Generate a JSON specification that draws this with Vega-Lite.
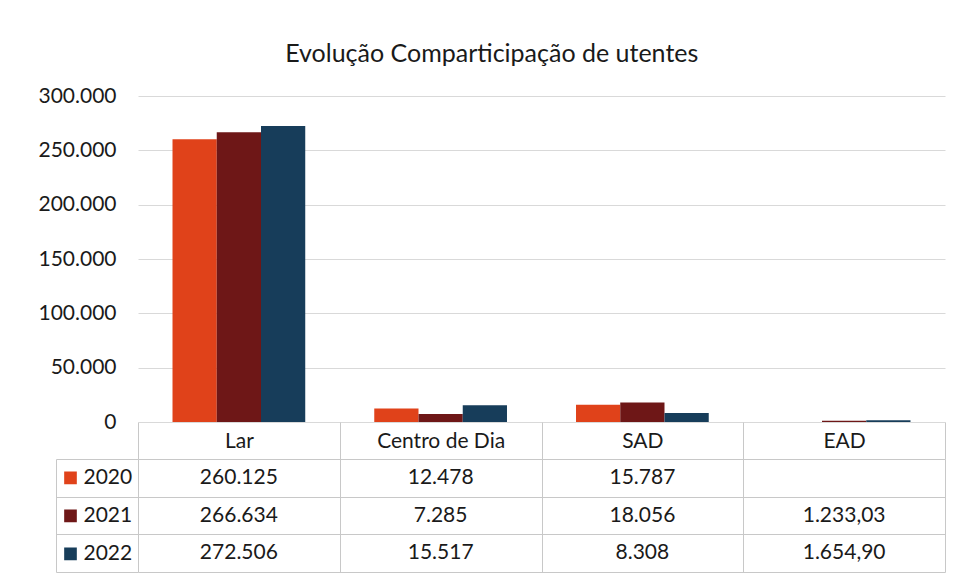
{
  "$schema": "https://vega.github.io/schema/vega-lite/v6.json",
  "background": "white",
  "padding": {"left": 37, "top": 42, "right": 5, "bottom": 0},
  "title": {"text": "Evolução Comparticipação de utentes", "font": "Lato", "fontSize": 25, "fontWeight": "normal", "color": "#1a1a1a", "anchor": "middle", "frame": "bounds", "offset": 18},
  "datasets": {
    "comp": [
      {"categoria": "Lar", "ano": "2020", "valor": 260125},
      {"categoria": "Lar", "ano": "2021", "valor": 266634},
      {"categoria": "Lar", "ano": "2022", "valor": 272506},
      {"categoria": "Centro de Dia", "ano": "2020", "valor": 12478},
      {"categoria": "Centro de Dia", "ano": "2021", "valor": 7285},
      {"categoria": "Centro de Dia", "ano": "2022", "valor": 15517},
      {"categoria": "SAD", "ano": "2020", "valor": 15787},
      {"categoria": "SAD", "ano": "2021", "valor": 18056},
      {"categoria": "SAD", "ano": "2022", "valor": 8308},
      {"categoria": "EAD", "ano": "2021", "valor": 1233.03},
      {"categoria": "EAD", "ano": "2022", "valor": 1654.90}
    ]
  },
  "config": {
    "font": "Lato",
    "locale": {"number": {"decimal": ",", "thousands": ".", "grouping": [3], "currency": ["", " €"]}},
    "view": {"stroke": null},
    "axis": {"labelFont": "Lato", "titleFont": "Lato"},
    "legend": {"labelFont": "Lato"}
  },
  "bounds": "flush",
  "spacing": 37,
  "vconcat": [
    {
      "width": 807,
      "height": 326,
      "data": {"name": "comp"},
      "mark": {"type": "bar"},
      "encoding": {
        "x": {"field": "categoria", "type": "nominal", "scale": {"domain": ["Lar", "Centro de Dia", "SAD", "EAD"], "paddingInner": 0, "paddingOuter": 0}, "axis": null},
        "xOffset": {"field": "ano", "type": "nominal", "scale": {"domain": ["2020", "2021", "2022"], "paddingInner": 0, "paddingOuter": 0.78}},
        "y": {"field": "valor", "type": "quantitative", "scale": {"domain": [0, 300000], "nice": false},
          "axis": {"title": null, "values": [0, 50000, 100000, 150000, 200000, 250000, 300000], "format": ",.0f", "ticks": false, "domain": false, "labelPadding": 22, "labelFontSize": 21, "labelColor": "#1a1a1a", "gridColor": "#d9d9d9"}},
        "color": {"field": "ano", "type": "nominal", "scale": {"domain": ["2020", "2021", "2022"], "range": ["#E0421A", "#6E1717", "#173D5A"]},
          "legend": {"orient": "none", "legendX": -74, "legendY": 363, "title": null, "symbolType": "square", "symbolSize": 160, "symbolStrokeWidth": 0, "symbolOpacity": 1, "labelExpr": "''", "labelOffset": 0, "clipHeight": 37.67, "rowPadding": 0, "padding": 0}}
      }
    },
    {
      "width": 807,
      "height": 113,
      "data": {"name": "comp"},
      "encoding": {
        "x": {"field": "categoria", "type": "nominal", "scale": {"domain": ["Lar", "Centro de Dia", "SAD", "EAD"], "paddingInner": 0, "paddingOuter": 0},
          "axis": {"orient": "top", "title": null, "tickBand": "extent", "ticks": true, "tickSize": 37, "tickColor": "#c8c8c8", "domain": false, "grid": true, "gridColor": "#c8c8c8", "labelAngle": 0, "labelBaseline": "middle", "labelPadding": -19, "labelFontSize": 21, "labelColor": "#1a1a1a"}},
        "y": {"field": "ano", "type": "nominal", "scale": {"domain": ["2020", "2021", "2022"], "paddingInner": 0, "paddingOuter": 0},
          "axis": {"orient": "left", "title": null, "offset": 82, "tickBand": "extent", "ticks": true, "tickSize": -82, "tickColor": "#c8c8c8", "domain": true, "domainColor": "#c8c8c8", "grid": true, "gridColor": "#c8c8c8", "labelAlign": "left", "labelPadding": 55, "labelFontSize": 21, "labelColor": "#1a1a1a"}}
      },
      "layer": [
        {
          "transform": [{"filter": "datum.categoria !== 'EAD'"}],
          "mark": {"type": "text", "fontSize": 21, "color": "#1a1a1a", "font": "Lato"},
          "encoding": {"text": {"field": "valor", "type": "quantitative", "format": ",.0f"}}
        },
        {
          "transform": [{"filter": "datum.categoria === 'EAD'"}],
          "mark": {"type": "text", "fontSize": 21, "color": "#1a1a1a", "font": "Lato"},
          "encoding": {"text": {"field": "valor", "type": "quantitative", "format": ",.2f"}}
        }
      ]
    }
  ]
}
